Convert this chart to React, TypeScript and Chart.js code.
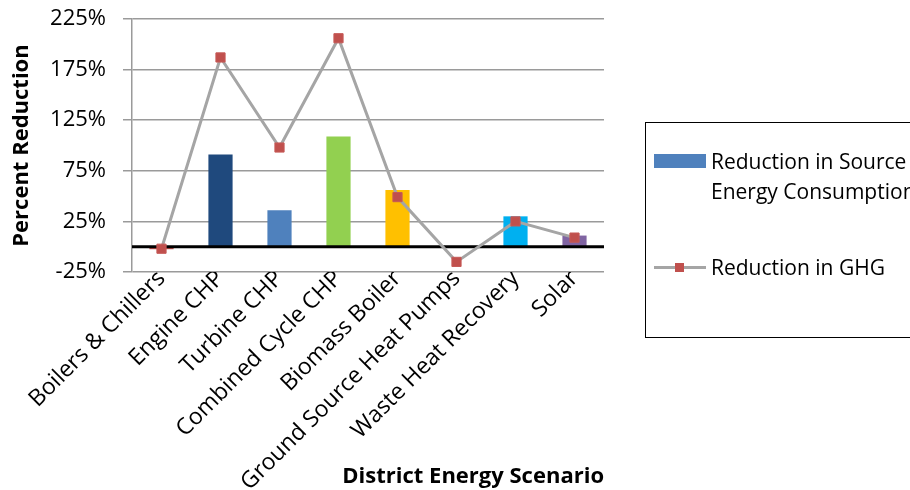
import React, { useEffect, useRef } from "react";
import { Chart, registerables } from "chart.js";

Chart.register(...registerables);

const categories = [
  "Boilers & Chillers",
  "Engine CHP",
  "Turbine CHP",
  "Combined Cycle CHP",
  "Biomass Boiler",
  "Ground Source Heat Pumps",
  "Waste Heat Recovery",
  "Solar",
];
const sourceEnergyReduction = [-2.5, 91, 36, 109, 56, 0, 30, 11];
const ghgReduction = [-2, 187, 98, 206, 49, -15, 25, 9];
const barColors = ["#C0504D", "#1F497D", "#4F81BD", "#92D050", "#FFC000", "#C0504D", "#00B0F0", "#8064A2"];
const seriesNames = ["Reduction in Source Energy Consumption", "Reduction in GHG"];
const yTicks = [-25, 25, 75, 125, 175, 225];
const yTitle = "Percent Reduction";
const xTitle = "District Energy Scenario";

const FONT = "'Open Sans'";

const zeroLinePlugin = {
  id: "zeroLine",
  afterDatasetDraw(chart: any, args: any) {
    if (args.meta.type !== "bar") return;
    const y = chart.scales.y.getPixelForValue(0);
    const { left, right } = chart.chartArea;
    const ctx = chart.ctx;
    ctx.save();
    ctx.strokeStyle = "#000000";
    ctx.lineWidth = 3;
    ctx.beginPath();
    ctx.moveTo(left, y);
    ctx.lineTo(right, y);
    ctx.stroke();
    ctx.restore();
  },
};

export default function App() {
  const canvasRef = useRef<HTMLCanvasElement | null>(null);

  useEffect(() => {
    if (!canvasRef.current) return;
    const chart = new Chart(canvasRef.current, {
      type: "bar",
      data: {
        labels: categories,
        datasets: [
          {
            type: "line",
            label: seriesNames[1],
            data: ghgReduction,
            borderColor: "#A5A5A5",
            borderWidth: 3,
            pointStyle: "rect",
            pointRadius: 6.5,
            pointBackgroundColor: "#C0504D",
            pointBorderColor: "#C65A57",
            pointBorderWidth: 1,
            tension: 0,
            order: 0,
          } as any,
          {
            type: "bar",
            label: seriesNames[0],
            data: sourceEnergyReduction,
            backgroundColor: barColors,
            borderWidth: 0,
            categoryPercentage: 1,
            barPercentage: 0.41,
            order: 1,
          } as any,
        ],
      },
      options: {
        animation: false,
        responsive: false,
        maintainAspectRatio: false,
        layout: { padding: { left: 0, top: 19, right: 306, bottom: 0 } },
        plugins: {
          legend: { display: false },
          tooltip: { enabled: false },
        },
        scales: {
          x: {
            offset: true,
            grid: { display: false, drawTicks: false },
            border: { display: false },
            ticks: {
              autoSkip: false,
              maxRotation: 45,
              minRotation: 45,
              padding: -7,
              color: "#000000",
              font: { family: FONT, size: 23 },
            },
            title: {
              display: true,
              text: xTitle,
              align: "end",
              color: "#000000",
              font: { family: FONT, size: 22, weight: "bold" },
              padding: { top: 1, bottom: 0 },
            },
            afterFit(scale: any) {
              scale.height = 218;
              scale.paddingTop = 0;
              scale.paddingBottom = 0;
              scale.paddingLeft = 0;
              scale.paddingRight = 0;
            },
          },
          y: {
            min: -25,
            max: 225,
            afterBuildTicks(scale: any) {
              scale.ticks = yTicks.map((v) => ({ value: v }));
            },
            grid: {
              color: "#9A9A9A",
              lineWidth: 1.5,
              tickLength: 9,
              drawTicks: true,
            },
            border: { display: true, color: "#9A9A9A", width: 1.5 },
            ticks: {
              padding: 17,
              color: "#000000",
              font: { family: FONT, size: 22 },
              callback: (v: any) => v + "%",
            },
            title: {
              display: true,
              text: yTitle,
              color: "#000000",
              font: { family: FONT, size: 22, weight: "bold" },
              padding: { top: 9, bottom: 0 },
            },
            afterFit(scale: any) {
              scale.width = 132;
              scale.paddingTop = 0;
              scale.paddingBottom = 0;
              scale.paddingLeft = 0;
              scale.paddingRight = 0;
            },
          },
        },
      },
      plugins: [zeroLinePlugin],
    });
    return () => chart.destroy();
  }, []);

  return (
    <div
      style={{
        position: "absolute",
        left: 0,
        top: 0,
        width: 910,
        height: 490,
        overflow: "hidden",
        background: "#ffffff",
        fontFamily: FONT,
      }}
    >
      <canvas ref={canvasRef} width={910} height={490} style={{ width: 910, height: 490 }} />
      <div
        style={{
          position: "absolute",
          left: 645,
          top: 122,
          width: 320,
          height: 216,
          border: "1.5px solid #000000",
          boxSizing: "border-box",
        }}
      >
        <div style={{ position: "absolute", left: 8, top: 31, width: 52, height: 14, background: "#4F81BD" }} />
        <div
          style={{
            position: "absolute",
            left: 65,
            top: 23,
            width: 240,
            fontSize: 21,
            lineHeight: "30px",
            color: "#000000",
          }}
        >
          {seriesNames[0]}
        </div>
        <div style={{ position: "absolute", left: 8, top: 143, width: 52, height: 3, background: "#A5A5A5" }} />
        <div
          style={{
            position: "absolute",
            left: 29,
            top: 140,
            width: 9,
            height: 9,
            background: "#C0504D",
          }}
        />
        <div
          style={{
            position: "absolute",
            left: 65,
            top: 129,
            fontSize: 21,
            lineHeight: "30px",
            color: "#000000",
            whiteSpace: "nowrap",
          }}
        >
          {seriesNames[1]}
        </div>
      </div>
    </div>
  );
}
